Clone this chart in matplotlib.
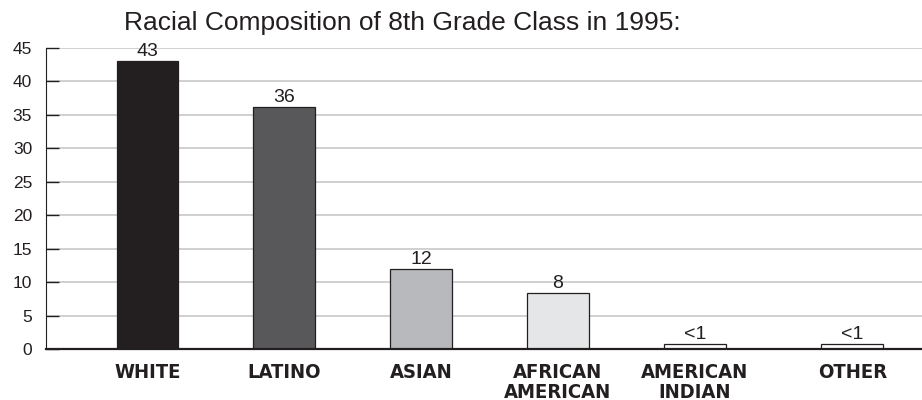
import matplotlib
matplotlib.use("Agg")
import matplotlib.pyplot as plt
from matplotlib import font_manager

# data
categories = ["WHITE", "LATINO", "ASIAN", "AFRICAN\nAMERICAN", "AMERICAN\nINDIAN", "OTHER"]
values = [43, 36.2, 11.9, 8.4, 0.75, 0.75]
value_labels = ["43", "36", "12", "8", "<1", "<1"]
yticks = [0, 5, 10, 15, 20, 25, 30, 35, 40, 45]

# layout / style
positions = [0, 1, 2, 3, 4, 5.15]
colors = ["#231f20", "#58585a", "#b8b9bc", "#e5e6e7", "#ffffff", "#ffffff"]

# look for a bold condensed face for the category labels
files = [f.fname for f in font_manager.fontManager.ttflist]
cond_file = None
for key in ["LiberationSansNarrow-Bold.", "DejaVuSansCondensed-Bold.", "RobotoCondensed-Bold",
            "OpenSans_Condensed-Bold", "OpenSansCondensed-Bold"]:
    hits = [f for f in files if key in f.split("/")[-1]]
    if hits:
        cond_file = hits[0]
        break
if cond_file:
    cond_font = font_manager.FontProperties(fname=cond_file, size=14.5)
else:
    cond_font = font_manager.FontProperties(family="DejaVu Sans", weight="heavy",
                                            stretch="condensed", size=13.5)

plt.rcParams["font.family"] = ["Liberation Sans", "DejaVu Sans"]

fig = plt.figure(figsize=(9.22, 4), dpi=100)
ax = fig.add_axes([0.05, 0.1275, 0.95, 0.7525])

ax.bar(positions, values, width=0.45, color=colors, edgecolor="#231f20",
       linewidth=0.9, zorder=3)

for x, v, lab in zip(positions, values, value_labels):
    ax.text(x, v + 0.15, lab, ha="center", va="bottom", fontsize=14, color="#231f20")

ax.set_xlim(-0.74, 5.66)
ax.set_ylim(0, 45)
ax.set_yticks(yticks)
ax.yaxis.grid(True, color="#c4c4c6", linewidth=1.1, zorder=0)
ax.set_xticks(positions)
ax.set_xticklabels(categories, fontproperties=cond_font, color="#231f20",
                   linespacing=1.05, va="top")
ax.tick_params(axis="x", length=0, pad=10)
ax.tick_params(axis="y", direction="in", length=9, width=1, color="#231f20",
               labelsize=12.5, pad=10, labelcolor="#231f20")

for s in ["top", "right"]:
    ax.spines[s].set_visible(False)
ax.spines["left"].set_color("#231f20")
ax.spines["bottom"].set_color("#231f20")
ax.spines["bottom"].set_linewidth(1.6)
ax.spines["bottom"].set_zorder(4)

fig.text(0.135, 0.943, "Racial Composition of 8th Grade Class in 1995:",
         fontsize=19, color="#231f20", va="center", ha="left")

fig.savefig("out.png", dpi=100)
